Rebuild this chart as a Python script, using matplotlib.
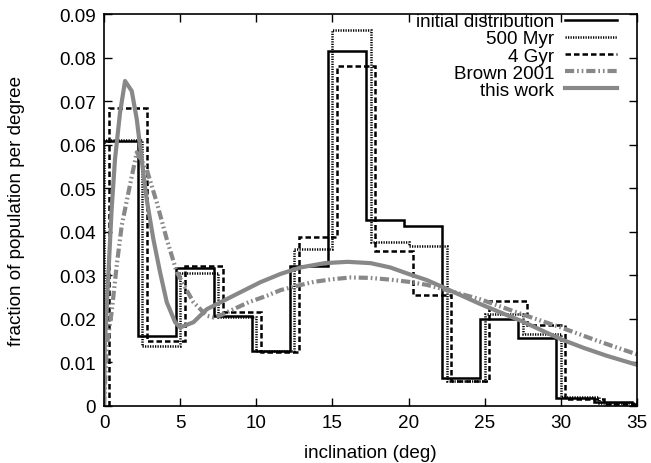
import matplotlib
matplotlib.use('Agg')
import matplotlib.pyplot as plt
import numpy as np

plt.rcParams['font.family'] = ['Liberation Sans', 'DejaVu Sans']
plt.rcParams['font.size'] = 13.6

# ========== data ==========
bin_edges = [0, 2.5, 5, 7.5, 10, 12.5, 15, 17.5, 20, 22.5, 25, 27.5, 30, 32.5, 35]

initial = [0.061, 0.016, 0.0317, 0.0207, 0.0126, 0.0322, 0.0815,
           0.0428, 0.0414, 0.0064, 0.0200, 0.0155, 0.0017, 0.0008]
myr500 = [0.0612, 0.0138, 0.0305, 0.0205, 0.0125, 0.0360, 0.0864,
          0.0376, 0.0368, 0.0057, 0.0210, 0.0165, 0.0020, 0.0007]
gyr4 = [0.0686, 0.0149, 0.0322, 0.0215, 0.0124, 0.0389, 0.0782,
        0.0355, 0.0255, 0.0057, 0.0241, 0.0186, 0.0015, 0.0005]

brown_x = [0, 0.18, 0.5, 0.83, 1.16, 1.6, 2.15, 2.8, 3.46, 4.12, 4.78,
           5.44, 5.87, 6.75, 7.19, 7.8, 8.5, 9.5, 10.7, 11.6, 12.7,
           13.8, 15.0, 16.2, 17.5, 18.8, 20.0, 21.2, 22.5, 24.7, 27.4,
           30.0, 32.5, 35.0]
brown_y = [0, 0.0138, 0.0215, 0.0322, 0.0414, 0.049, 0.0583, 0.0544,
           0.0468, 0.0383, 0.0307, 0.0265, 0.0238, 0.0207, 0.0203,
           0.0210, 0.0222, 0.0238, 0.0253, 0.0266, 0.0276,
           0.0285, 0.0291, 0.0295, 0.0294, 0.0290, 0.0285, 0.0278,
           0.0266, 0.0245, 0.0211, 0.0180, 0.0148, 0.0118]

work_x = [0, 0.05, 0.28, 0.5, 0.72, 1.05, 1.38, 1.82, 2.15, 2.47, 2.8, 3.24,
          3.68, 4.12, 4.67, 5.0, 5.87, 6.75, 8.5, 10.26, 11.58, 12.9, 14.5,
          16.0, 17.5, 18.8, 20.0, 21.2, 22.3, 23.5, 24.7, 26.0, 27.4, 28.7,
          30.0, 31.5, 33.0, 35.0]
work_y = [0, 0.0138, 0.0299, 0.0452, 0.0567, 0.0674, 0.0747, 0.0724,
          0.0659, 0.0567, 0.0475, 0.0383, 0.0307, 0.0238, 0.0192, 0.0180,
          0.0192, 0.0222, 0.0253, 0.0284, 0.0303, 0.0318, 0.0328, 0.0331,
          0.0328, 0.0318, 0.0303, 0.0289, 0.0272, 0.0253, 0.0234, 0.0215,
          0.0195, 0.0174, 0.0153, 0.0133, 0.0115, 0.0094]

# small shifts so the three histograms do not sit on top of each other
shift = {'initial': -0.3, '500': 0.0, '4g': 0.3}

# ========== plot ==========
fig = plt.figure(figsize=(6.51, 4.64), dpi=100)
ax = fig.add_axes([0.1598, 0.1235, 0.8187, 0.8431])

edges = np.array(bin_edges)
ax.stairs(initial, edges + shift['initial'], baseline=0, color='black',
          lw=1.8, label='initial distribution')
ax.stairs(myr500, edges + shift['500'], baseline=0, color='black',
          lw=1.8, linestyle=(0, (0.5, 0.5)), label='500 Myr')
ax.stairs(gyr4, edges + shift['4g'], baseline=0, color='black',
          lw=1.8, linestyle=(0, (2.2, 1.2)), label='4 Gyr')
ax.plot(brown_x, brown_y, color='#888888', lw=3,
        linestyle=(0, (2.2, 0.7, 0.4, 0.7, 0.4, 0.7)), label='Brown 2001')
ax.plot(work_x, work_y, color='#888888', lw=3, label='this work')

ax.set_xlim(0, 35)
ax.set_ylim(0, 0.09)
ax.set_xticks(np.arange(0, 36, 5))
ax.set_yticks(np.arange(0, 0.091, 0.01))
ax.set_yticklabels(['0', '0.01', '0.02', '0.03', '0.04', '0.05', '0.06',
                    '0.07', '0.08', '0.09'])
ax.tick_params(direction='in', top=True, right=True, length=6, width=1,
               labelsize=13.6, pad=6)
for sp in ax.spines.values():
    sp.set_linewidth(1.2)

ax.set_xlabel('inclination (deg)', fontsize=13.6, labelpad=9)
ax.set_ylabel('fraction of population per degree', fontsize=13.6, labelpad=24)

ax.legend(loc='upper right', bbox_to_anchor=(0.983, 1.033), frameon=False,
          markerfirst=False, handlelength=2.75, handletextpad=0.55,
          labelspacing=0.0, fontsize=13.6, borderaxespad=0.2)

fig.savefig('out.png', dpi=100)
